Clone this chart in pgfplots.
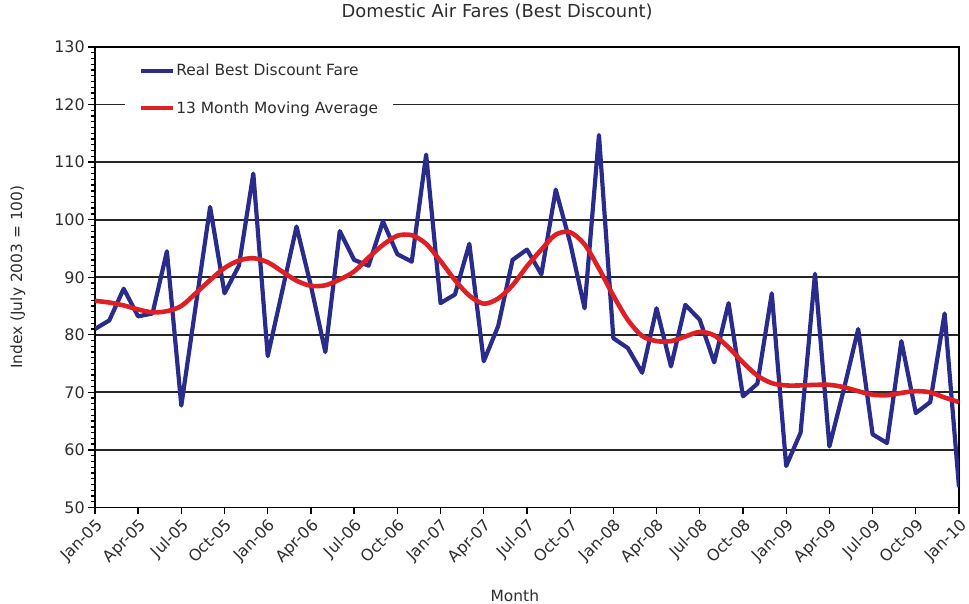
\documentclass[border=0pt]{standalone}
\usepackage{pgfplots}
\pgfplotsset{compat=1.18}
\usepackage{fontspec}
\setmainfont{DejaVu Sans}
\definecolor{fareblue}{RGB}{42,44,140}
\definecolor{avgred}{RGB}{222,32,36}
\definecolor{txt}{RGB}{45,45,45}
\begin{document}
\begin{tikzpicture}[x=1bp,y=1bp]
\begin{axis}[
  name=ax,
  scale only axis,
  width=865bp, height=461bp,
  xmin=0, xmax=60, ymin=50, ymax=130,
  xtick={0,3,...,60},
  xticklabels={Jan-05,Apr-05,Jul-05,Oct-05,Jan-06,Apr-06,Jul-06,Oct-06,Jan-07,Apr-07,Jul-07,Oct-07,Jan-08,Apr-08,Jul-08,Oct-08,Jan-09,Apr-09,Jul-09,Oct-09,Jan-10},
  ytick={50,60,...,130},
  minor y tick num=9,
  ymajorgrids,
  major grid style={line width=1.8bp, black!85},
  axis line style={line width=1.4bp, black},
  tick align=outside,
  major tick length=7bp,
  minor tick length=4bp,
  tick style={line width=1.3bp, black},
  xtick pos=bottom, ytick pos=left,
  /pgf/number format/assume math mode=true,
  tick label style={font=\fontsize{16}{18}\selectfont, text=txt},
  xticklabel style={rotate=45, anchor=north east, inner sep=2bp},
  yticklabel style={inner sep=3bp},
  title={Domestic Air Fares (Best Discount)},
  title style={font=\fontsize{18}{20}\selectfont, text=txt, at={(rel axis cs:0.4655,1)}, anchor=center, yshift=29bp},
  xlabel={Month},
  ylabel={Index (July 2003 = 100)},
  label style={font=\fontsize{15.5}{18}\selectfont, text=txt},
  xlabel style={at={(rel axis cs:0.486,0)}, anchor=center, yshift=-88bp},
  ylabel style={at={(rel axis cs:-0.089,0.5)}, anchor=center},
  legend style={at={(rel axis cs:0.0345,0.989)}, anchor=north west, draw=none, fill=white,
    font=\fontsize{15.5}{18}\selectfont, text=txt,
    row sep=20bp, inner xsep=14bp, inner ysep=10bp,
    nodes={inner xsep=1bp}},
  legend cell align=left,
  legend image code/.code={\draw[#1, line width=4.5bp] (0bp,0bp) -- (32bp,0bp);},
]
\addplot[fareblue, line width=4.2bp, line join=round] coordinates {
(0,81.0)(1,82.5)(2,88.0)(3,83.2)(4,83.7)(5,94.5)(6,67.7)(7,85.0)(8,102.2)(9,87.2)
(10,92.0)(11,108.0)(12,76.3)(13,87.5)(14,98.8)(15,88.5)(16,77.0)(17,98.0)(18,93.0)(19,92.0)
(20,99.7)(21,94.0)(22,92.7)(23,111.3)(24,85.5)(25,87.0)(26,95.8)(27,75.4)(28,81.5)(29,93.0)
(30,94.8)(31,90.5)(32,105.2)(33,96.0)(34,84.6)(35,114.7)(36,79.4)(37,77.7)(38,73.4)(39,84.6)
(40,74.5)(41,85.2)(42,82.6)(43,75.2)(44,85.5)(45,69.3)(46,71.5)(47,87.2)(48,57.2)(49,63.0)
(50,90.6)(51,60.6)(52,70.5)(53,81.0)(54,62.7)(55,61.2)(56,78.9)(57,66.4)(58,68.3)(59,83.7)
(60,53.5)
};
\addlegendentry{Real Best Discount Fare}
\addplot[avgred, line width=4.6bp, smooth, tension=0.5] coordinates {
(0,85.9)(1,85.6)(2,85.1)(3,84.4)(4,83.9)(5,84.1)(6,85.0)(7,87.2)(8,89.5)(9,91.6)
(10,92.9)(11,93.3)(12,92.6)(13,91.0)(14,89.4)(15,88.5)(16,88.6)(17,89.6)(18,91.0)(19,93.4)
(20,95.6)(21,97.2)(22,97.3)(23,95.8)(24,92.8)(25,89.5)(26,86.8)(27,85.4)(28,86.3)(29,88.6)
(30,91.9)(31,94.8)(32,97.4)(33,97.8)(34,95.7)(35,91.5)(36,86.8)(37,82.6)(38,79.8)(39,78.9)
(40,78.9)(41,79.7)(42,80.5)(43,79.9)(44,77.8)(45,75.2)(46,72.9)(47,71.6)(48,71.2)(49,71.2)
(50,71.3)(51,71.3)(52,70.9)(53,70.2)(54,69.6)(55,69.5)(56,69.9)(57,70.2)(58,70.0)(59,69.1)
(60,68.3)
};
\addlegendentry{13 Month Moving Average}
\end{axis}
\pgfresetboundingbox
\useasboundingbox ([xshift=-95bp,yshift=-96bp]ax.south west) rectangle ([xshift=10bp,yshift=47bp]ax.north east);
\end{tikzpicture}
\end{document}
